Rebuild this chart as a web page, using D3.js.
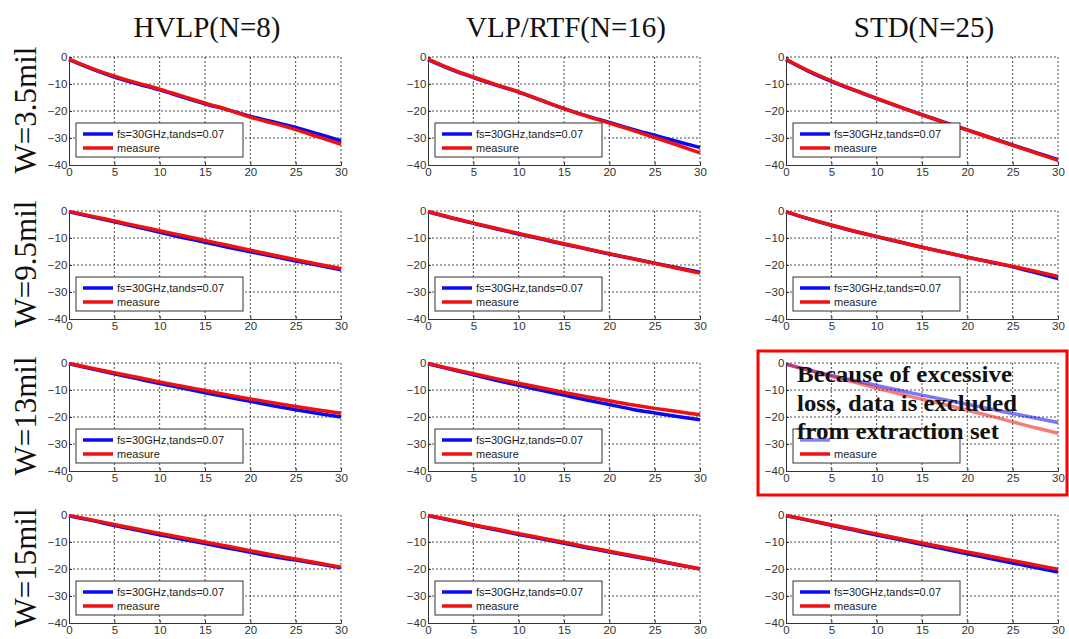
<!DOCTYPE html>
<html>
<head>
<meta charset="utf-8">
<script src="https://cdn.jsdelivr.net/npm/d3@7"></script>
<style>
  html, body { margin: 0; padding: 0; background: #fff; }
  svg { display: block; }
</style>
</head>
<body>
<svg id="chart" width="1069" height="639"></svg>
<script>
// Insertion loss (dB) vs frequency (GHz) for three copper roughness classes and four trace widths
const columnTitles = ["HVLP(N=8)", "VLP/RTF(N=16)", "STD(N=25)"];
const rowLabels = ["W=3.5mil", "W=9.5mil", "W=13mil", "W=15mil"];
const legendLabels = ["fs=30GHz,tands=0.07", "measure"];
const freqGHz = [0, 2.5, 5, 7.5, 10, 12.5, 15, 17.5, 20, 22.5, 25, 27.5, 30];
const xTicks = [0, 5, 10, 15, 20, 25, 30];
const yTicks = [0, -10, -20, -30, -40];

// model (blue) and measured (red) curves, row by row, column by column
const modelW35 = [
  [-1, -4.4, -7.4, -9.9, -12.2, -14.8, -17.3, -19.6, -22, -24, -26.1, -28.5, -31],
  [-1, -4.6, -7.6, -10.4, -13, -16.1, -19.1, -21.8, -24.2, -26.7, -29, -31.3, -33.5],
  [-1, -5.3, -9, -12.3, -15.4, -18.5, -21.4, -24.2, -27, -29.8, -32.6, -35.3, -38]
];
const measureW35 = [
  [-0.8, -4.2, -7.1, -9.6, -11.9, -14.5, -17.1, -19.5, -22.3, -24.5, -26.9, -29.6, -32.3],
  [-0.8, -4.4, -7.4, -10.2, -12.9, -16, -19.1, -21.9, -24.5, -27.1, -29.8, -32.6, -35.5],
  [-0.8, -5.1, -8.8, -12.2, -15.3, -18.4, -21.4, -24.3, -27.1, -29.9, -32.7, -35.5, -38.3]
];
const modelW95 = [
  [-0.3, -2.1, -4, -5.9, -7.9, -9.8, -11.6, -13.4, -15.1, -16.8, -18.5, -20.1, -21.8],
  [-0.3, -2.5, -4.6, -6.6, -8.5, -10.4, -12.3, -14.1, -15.9, -17.6, -19.3, -21, -22.7],
  [-0.3, -2.9, -5.3, -7.5, -9.5, -11.5, -13.4, -15.3, -17.1, -18.9, -20.7, -22.8, -25]
];
const measureW95 = [
  [-0.2, -1.9, -3.7, -5.5, -7.3, -9.1, -10.9, -12.7, -14.5, -16.3, -18, -19.7, -21.3],
  [-0.2, -2.4, -4.4, -6.4, -8.3, -10.2, -12.1, -14, -15.8, -17.6, -19.4, -21.2, -23],
  [-0.2, -2.8, -5.2, -7.4, -9.4, -11.4, -13.4, -15.3, -17.1, -18.8, -20.5, -22.3, -24.2]
];
const modelW13 = [
  [-0.3, -2.1, -4, -5.8, -7.6, -9.3, -11, -12.6, -14.2, -15.8, -17.3, -18.7, -20],
  [-0.3, -2.3, -4.4, -6.4, -8.3, -10.1, -11.9, -13.7, -15.4, -17.1, -18.5, -19.8, -21],
  [-0.5, -2.6, -4.6, -6.5, -8.3, -10.1, -11.9, -13.6, -15.3, -17, -18.7, -20.4, -22]
];
const measureW13 = [
  [-0.2, -1.9, -3.6, -5.3, -7, -8.6, -10.2, -11.8, -13.3, -14.7, -16.1, -17.4, -18.6],
  [-0.2, -2.1, -4, -5.8, -7.5, -9.2, -10.9, -12.5, -14, -15.5, -16.8, -18, -19.2],
  [-0.3, -2.7, -4.9, -7.1, -9.3, -11.4, -13.4, -15.4, -17.5, -19.6, -21.8, -24, -26]
];
const modelW15 = [
  [-0.3, -2, -3.9, -5.6, -7.3, -9, -10.6, -12.2, -13.8, -15.4, -16.7, -18.1, -19.5],
  [-0.3, -2, -3.8, -5.5, -7.2, -8.8, -10.5, -12.1, -13.7, -15.3, -16.8, -18.4, -20],
  [-0.3, -2, -3.8, -5.6, -7.4, -9.1, -10.9, -12.6, -14.4, -16.1, -17.8, -19.5, -21.1]
];
const measureW15 = [
  [-0.2, -1.8, -3.5, -5.2, -6.8, -8.4, -10, -11.6, -13.2, -14.8, -16.3, -17.8, -19.3],
  [-0.2, -1.8, -3.6, -5.2, -6.9, -8.5, -10.1, -11.8, -13.4, -15, -16.6, -18.3, -19.9],
  [-0.2, -1.9, -3.6, -5.3, -7, -8.7, -10.4, -12, -13.7, -15.3, -16.9, -18.5, -20.1]
];
const modelRows = [modelW35, modelW95, modelW13, modelW15];
const measureRows = [measureW35, measureW95, measureW13, measureW15];

// panel excluded from the extraction set (row, column)
const excluded = { row: 2, col: 2 };
const excludedNote = ["Because of excessive", "loss, data is excluded", "from extraction set"];
const excludedNoteWidth = [215, 220, 202];

// layout
const colLeft = [69, 428, 786];
const rowTop = [57, 211, 363, 515];
const plotW = 272, plotH = 108;
const blue = "#0a0af0", red = "#f01010";

const svg = d3.select("#chart");

// column titles
svg.selectAll("text.col-title")
  .data(columnTitles)
  .join("text")
  .attr("class", "col-title")
  .attr("x", (d, i) => colLeft[i] + plotW / 2 + 2)
  .attr("y", 37)
  .attr("text-anchor", "middle")
  .attr("font-family", "'Liberation Serif', 'Times New Roman', serif")
  .attr("font-size", 29)
  .attr("fill", "#111")
  .text(d => d);

// row labels, rotated
svg.selectAll("text.row-label")
  .data(rowLabels)
  .join("text")
  .attr("class", "row-label")
  .attr("transform", (d, i) => `translate(36,${rowTop[i] + plotH / 2 - 1}) rotate(-90)`)
  .attr("text-anchor", "middle")
  .attr("font-family", "'Liberation Serif', 'Times New Roman', serif")
  .attr("font-size", 31)
  .attr("fill", "#111")
  .text(d => d);

const x = d3.scaleLinear().domain([0, 30]).range([0, plotW]);
const y = d3.scaleLinear().domain([-40, 0]).range([plotH, 0]);
const line = d3.line().x(d => x(d[0])).y(d => y(d[1])).curve(d3.curveMonotoneX);

rowTop.forEach((top, r) => {
  colLeft.forEach((left, c) => {
    const isExcluded = r === excluded.row && c === excluded.col;
    const g = svg.append("g").attr("transform", `translate(${left},${top})`);

    // dotted grid
    g.append("g").selectAll("line")
      .data(xTicks.filter(t => t > 0))
      .join("line")
      .attr("x1", d => x(d)).attr("x2", d => x(d))
      .attr("y1", 0).attr("y2", plotH)
      .attr("stroke", "#222").attr("stroke-width", 0.8)
      .attr("stroke-dasharray", "2,2");
    g.append("g").selectAll("line")
      .data(yTicks.filter(t => t > -40))
      .join("line")
      .attr("x1", 0).attr("x2", plotW)
      .attr("y1", d => y(d)).attr("y2", d => y(d))
      .attr("stroke", "#222").attr("stroke-width", 0.8)
      .attr("stroke-dasharray", "2,2");

    // axes
    const xAxis = g.append("g")
      .attr("transform", `translate(0,${plotH})`)
      .call(d3.axisBottom(x).tickValues(xTicks).tickSize(-3).tickPadding(3).tickFormat(d3.format("d")));
    const yAxis = g.append("g")
      .call(d3.axisLeft(y).tickValues(yTicks).tickSize(-3).tickPadding(4).tickFormat(d3.format("d")));
    [xAxis, yAxis].forEach(a => {
      a.select(".domain").attr("stroke", "#333").attr("stroke-width", 1);
      a.selectAll(".tick line").attr("stroke", "#333");
      a.selectAll(".tick text")
        .attr("font-family", "Arial, 'Liberation Sans', sans-serif")
        .attr("font-size", 11.5)
        .attr("fill", "#333");
    });
    xAxis.selectAll(".tick text").attr("dy", "0.72em");
    yAxis.selectAll(".tick text").attr("dx", "0.2em");

    // curves
    const model = freqGHz.map((f, i) => [f, modelRows[r][c][i]]);
    const meas = freqGHz.map((f, i) => [f, measureRows[r][c][i]]);
    const fade = isExcluded ? 0.55 : 1;
    g.append("path").datum(model)
      .attr("d", line).attr("fill", "none")
      .attr("stroke", blue).attr("stroke-width", 3.5)
      .attr("stroke-opacity", fade);
    g.append("path").datum(meas)
      .attr("d", line).attr("fill", "none")
      .attr("stroke", red).attr("stroke-width", 3.5)
      .attr("stroke-opacity", fade);

    // legend
    const lg = g.append("g").attr("transform", `translate(7,${plotH - 42})`);
    lg.append("rect")
      .attr("width", 167).attr("height", 34)
      .attr("fill", "#fff").attr("stroke", "#333").attr("stroke-width", 1);
    legendLabels.forEach((lbl, i) => {
      // in the excluded panel the model entry sits beneath the note
      if (isExcluded && i === 0) return;
      const item = lg.append("g");
      item.append("line")
        .attr("x1", 7).attr("x2", 37)
        .attr("y1", 11 + i * 14).attr("y2", 11 + i * 14)
        .attr("stroke", i === 0 ? blue : red).attr("stroke-width", 3.5);
      item.append("text")
        .attr("x", 41).attr("y", 11 + i * 14)
        .attr("dy", "0.35em")
        .attr("font-family", "Arial, 'Liberation Sans', sans-serif")
        .attr("font-size", 11)
        .attr("fill", "#222")
        .text(lbl);
    });
    if (isExcluded) {
      lg.append("line")
        .attr("x1", 7).attr("x2", 37).attr("y1", 11).attr("y2", 11)
        .attr("stroke", blue).attr("stroke-width", 3.5).attr("stroke-opacity", 0.5);
    }

    if (isExcluded) {
      g.append("g").selectAll("text")
        .data(excludedNote)
        .join("text")
        .attr("x", 11)
        .attr("y", (d, i) => 19 + i * 28.5)
        .attr("textLength", (d, i) => excludedNoteWidth[i])
        .attr("lengthAdjust", "spacingAndGlyphs")
        .attr("font-family", "'Liberation Serif', 'Times New Roman', serif")
        .attr("font-weight", "bold")
        .attr("font-size", 23)
        .attr("fill", "#111")
        .text(d => d);
    }
  });
});

// frame around the excluded panel
svg.append("rect")
  .attr("x", colLeft[excluded.col] - 28)
  .attr("y", rowTop[excluded.row] - 12)
  .attr("width", 1067 - (colLeft[excluded.col] - 28))
  .attr("height", plotH + 36)
  .attr("fill", "none")
  .attr("stroke", "#f00")
  .attr("stroke-width", 3);
</script>
</body>
</html>
